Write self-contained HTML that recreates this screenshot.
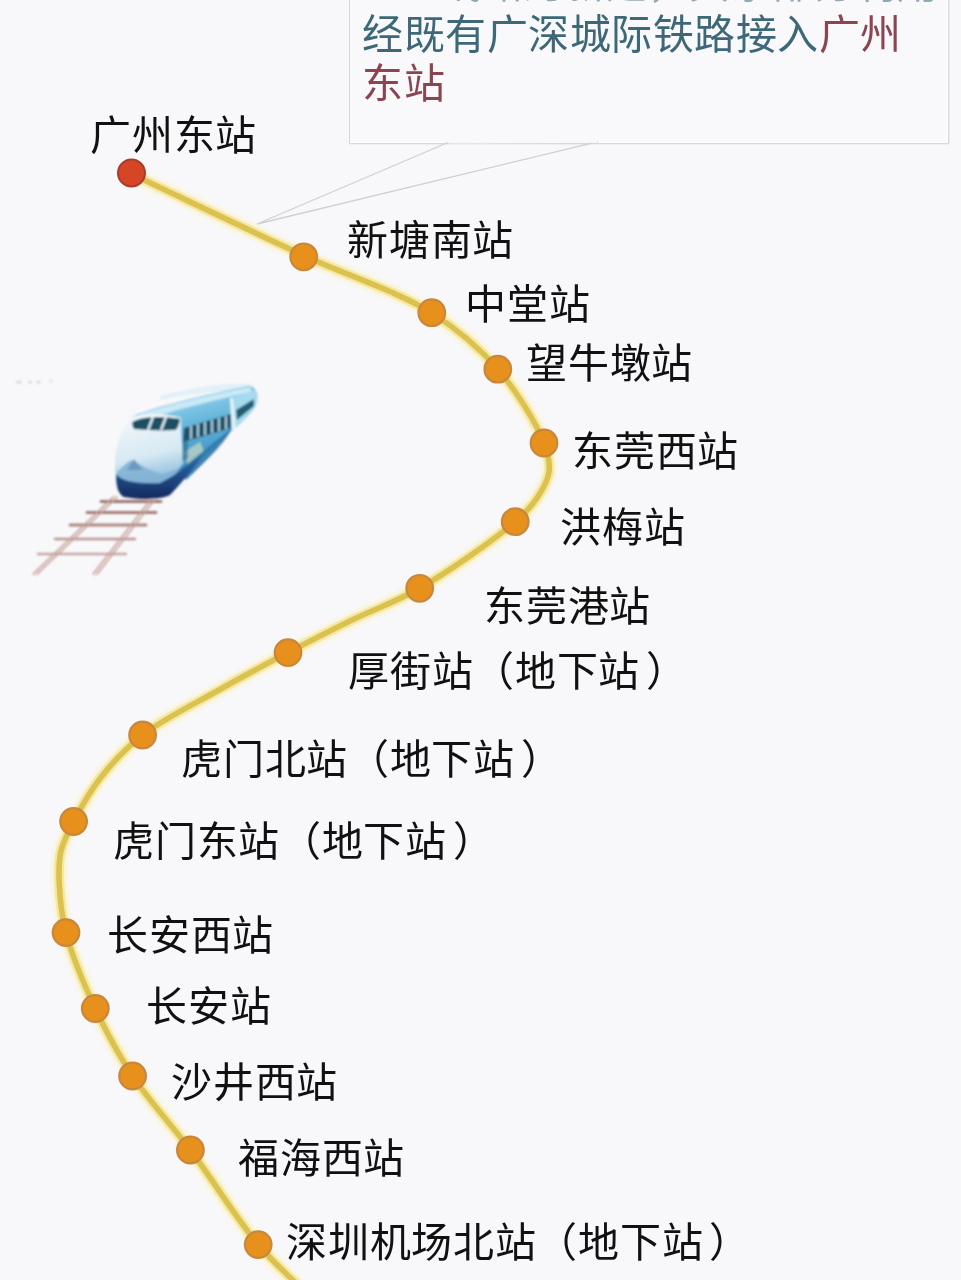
<!DOCTYPE html>
<html lang="zh-CN"><head><meta charset="utf-8">
<style>
html,body{margin:0;padding:0;}
body{width:961px;height:1280px;overflow:hidden;background:#f8f8fb;position:relative;font-family:"Liberation Sans",sans-serif;}
svg.bg{position:absolute;left:0;top:0;}
.lb{position:absolute;white-space:nowrap;font-size:41px;line-height:41px;color:#111;font-weight:300;}
.box{position:absolute;left:349px;top:-10px;width:598px;height:152px;border:1px solid #d6d6db;background:#f9f9fc;box-shadow:inset -1px -1px 0 #ffffff,1px 1px 1px rgba(0,0,0,0.04);}
.ct{position:absolute;white-space:nowrap;font-size:41px;line-height:41px;color:#3d6878;font-weight:300;}
.red{color:#8c4550;}
.ct i{width:41.5px;}
.rp{position:relative;left:6px;}
.lb,.ct{filter:blur(0.35px);}
i{font-style:normal;display:inline-block;width:41.7px;text-align:center;text-spacing-trim:space-all;}
</style></head>
<body>
<div class="box"></div>
<svg class="bg" width="961" height="1280" viewBox="0 0 961 1280">
  <defs><filter id="bl2" x="-5%" y="-5%" width="110%" height="110%"><feGaussianBlur stdDeviation="0.6"/></filter><filter id="bl3" x="-5%" y="-5%" width="110%" height="110%"><feGaussianBlur stdDeviation="2"/></filter></defs>
  <!-- callout pointer -->
  <polyline points="448,142.5 257,224 598,141.6" fill="none" stroke="#cfcfd4" stroke-width="1.3"/>
  <line x1="449" y1="142.5" x2="597" y2="142" stroke="#f8f8fb" stroke-width="2"/>
  <!-- curve -->
  <path d="M131.5,174.0 C188.9,201.2 250.4,230.9 303.7,255.5 C349.4,276.6 397.3,291.2 431.8,313.0 C458.9,330.1 479.1,347.6 497.8,369.2 C516.5,390.9 536.5,423.4 544.0,443.0 C548.3,454.4 550.2,462.8 549.0,472.0 C547.8,481.1 542.4,489.9 537.0,498.0 C531.3,506.6 525.7,512.5 515.2,521.7 C495.2,539.2 449.4,571.2 419.7,588.3 C396.1,601.9 375.1,608.8 353.1,619.5 C331.2,630.2 309.9,641.1 288.0,652.6 C265.5,664.4 243.2,676.3 219.9,689.5 C194.8,703.7 163.6,718.7 142.6,735.0 C125.6,748.3 112.7,762.3 101.0,777.2 C90.0,791.2 80.6,808.0 73.6,821.5 C68.1,832.1 63.4,840.8 61.0,851.0 C58.6,861.1 58.7,870.8 59.2,882.5 C59.8,897.3 61.3,914.5 66.0,932.6 C71.9,955.6 84.0,984.3 95.3,1008.5 C106.3,1032.1 117.8,1053.6 132.6,1076.0 C149.0,1100.8 170.6,1123.6 190.4,1150.0 C212.4,1179.4 236.7,1219.1 258.2,1244.6 C274.4,1263.9 289.4,1276.2 305.0,1292.0" fill="none" stroke="#faf3cc" stroke-width="14" stroke-linecap="round" filter="url(#bl3)"/>
  <g filter="url(#bl2)">
  <path d="M131.5,174.0 C188.9,201.2 250.4,230.9 303.7,255.5 C349.4,276.6 397.3,291.2 431.8,313.0 C458.9,330.1 479.1,347.6 497.8,369.2 C516.5,390.9 536.5,423.4 544.0,443.0 C548.3,454.4 550.2,462.8 549.0,472.0 C547.8,481.1 542.4,489.9 537.0,498.0 C531.3,506.6 525.7,512.5 515.2,521.7 C495.2,539.2 449.4,571.2 419.7,588.3 C396.1,601.9 375.1,608.8 353.1,619.5 C331.2,630.2 309.9,641.1 288.0,652.6 C265.5,664.4 243.2,676.3 219.9,689.5 C194.8,703.7 163.6,718.7 142.6,735.0 C125.6,748.3 112.7,762.3 101.0,777.2 C90.0,791.2 80.6,808.0 73.6,821.5 C68.1,832.1 63.4,840.8 61.0,851.0 C58.6,861.1 58.7,870.8 59.2,882.5 C59.8,897.3 61.3,914.5 66.0,932.6 C71.9,955.6 84.0,984.3 95.3,1008.5 C106.3,1032.1 117.8,1053.6 132.6,1076.0 C149.0,1100.8 170.6,1123.6 190.4,1150.0 C212.4,1179.4 236.7,1219.1 258.2,1244.6 C274.4,1263.9 289.4,1276.2 305.0,1292.0" fill="none" stroke="#f4e8a6" stroke-width="10" stroke-linecap="round"/>
  <path d="M131.5,174.0 C188.9,201.2 250.4,230.9 303.7,255.5 C349.4,276.6 397.3,291.2 431.8,313.0 C458.9,330.1 479.1,347.6 497.8,369.2 C516.5,390.9 536.5,423.4 544.0,443.0 C548.3,454.4 550.2,462.8 549.0,472.0 C547.8,481.1 542.4,489.9 537.0,498.0 C531.3,506.6 525.7,512.5 515.2,521.7 C495.2,539.2 449.4,571.2 419.7,588.3 C396.1,601.9 375.1,608.8 353.1,619.5 C331.2,630.2 309.9,641.1 288.0,652.6 C265.5,664.4 243.2,676.3 219.9,689.5 C194.8,703.7 163.6,718.7 142.6,735.0 C125.6,748.3 112.7,762.3 101.0,777.2 C90.0,791.2 80.6,808.0 73.6,821.5 C68.1,832.1 63.4,840.8 61.0,851.0 C58.6,861.1 58.7,870.8 59.2,882.5 C59.8,897.3 61.3,914.5 66.0,932.6 C71.9,955.6 84.0,984.3 95.3,1008.5 C106.3,1032.1 117.8,1053.6 132.6,1076.0 C149.0,1100.8 170.6,1123.6 190.4,1150.0 C212.4,1179.4 236.7,1219.1 258.2,1244.6 C274.4,1263.9 289.4,1276.2 305.0,1292.0" fill="none" stroke="#dbc250" stroke-width="5.6" stroke-linecap="round"/>
  </g>
  <!-- dots -->
  <g stroke="#c8873c" stroke-width="2.2" fill="#e8901f" filter="url(#bl2)">
    <circle cx="303.7" cy="256.8" r="13.3"/>
    <circle cx="431.8" cy="312.7" r="13.3"/>
    <circle cx="497.8" cy="369.2" r="13.3"/>
    <circle cx="544.0" cy="443.0" r="13.3"/>
    <circle cx="515.2" cy="521.7" r="13.3"/>
    <circle cx="419.7" cy="588.3" r="13.3"/>
    <circle cx="288.0" cy="652.6" r="13.3"/>
    <circle cx="142.6" cy="735.0" r="13.3"/>
    <circle cx="73.6" cy="821.5" r="13.3"/>
    <circle cx="66.0" cy="932.6" r="13.3"/>
    <circle cx="95.3" cy="1008.5" r="13.3"/>
    <circle cx="132.6" cy="1076.0" r="13.3"/>
    <circle cx="190.4" cy="1150.0" r="13.3"/>
    <circle cx="258.2" cy="1244.6" r="13.3"/>
  </g>
  <circle cx="131.5" cy="173" r="13.5" fill="#d64526" stroke="#a83c2e" stroke-width="2" filter="url(#bl2)"/>
</svg>


<svg class="bg" width="961" height="1280" viewBox="0 0 961 1280">
  <defs>
    <filter id="bl" x="-10%" y="-10%" width="120%" height="120%"><feGaussianBlur stdDeviation="0.9"/></filter>
    <linearGradient id="tb" x1="0" y1="0" x2="0.3" y2="1">
      <stop offset="0" stop-color="#b8e2f3"/>
      <stop offset="0.5" stop-color="#5fb3da"/>
      <stop offset="1" stop-color="#2d7fb3"/>
    </linearGradient>
    <linearGradient id="nose" x1="0" y1="0" x2="0.2" y2="1">
      <stop offset="0" stop-color="#f4f9fc"/>
      <stop offset="0.6" stop-color="#d7e9f3"/>
      <stop offset="1" stop-color="#7fb5d8"/>
    </linearGradient>
    <linearGradient id="bot" x1="0" y1="0" x2="0" y2="1">
      <stop offset="0" stop-color="#2f6fb0"/>
      <stop offset="1" stop-color="#13295e"/>
    </linearGradient>
  </defs>
  <g filter="url(#bl)">
    <!-- faint dots -->
    <g fill="#d8d8dd"><ellipse cx="19" cy="382" rx="3" ry="1.6"/><ellipse cx="30" cy="382" rx="2" ry="1.5"/><ellipse cx="38.5" cy="382" rx="2.5" ry="1.5"/><ellipse cx="51" cy="381" rx="2.5" ry="1.5" fill="#e4e4e8"/></g>
    <!-- rails -->
    <g fill="none" stroke-linecap="round">
      <path d="M115,497 L35,574" stroke="#eddcd8" stroke-width="4"/>
      <path d="M152,500 L95,574" stroke="#eddcd8" stroke-width="4"/>
      <g stroke="#b48e88" stroke-width="2.8">
        <line x1="101" y1="501.5" x2="161" y2="501.5" stroke="#9c766e"/>
        <line x1="87" y1="512.5" x2="156" y2="512.5" stroke="#a27c74"/>
        <line x1="70" y1="525" x2="146" y2="525" stroke="#aa867f"/>
        <line x1="55" y1="539" x2="135" y2="539" stroke="#b8958f" stroke-width="2.5"/>
        <line x1="38" y1="554" x2="126" y2="554" stroke="#c4a5a0" stroke-width="2.3"/>
      </g>
      <g stroke="#c2a09b" stroke-width="1.3">
        <line x1="113" y1="497" x2="33" y2="574"/>
        <line x1="117.5" y1="497" x2="37.5" y2="574"/>
        <line x1="150" y1="500" x2="93" y2="574"/>
        <line x1="154.5" y1="500" x2="97.5" y2="574"/>
      </g>
    </g>
    <!-- motion trail -->
    <path d="M160,396 C190,388 225,382 252,384 L250,390 C222,390 190,394 160,400 Z" fill="#e2f0f7"/>
    <!-- body side -->
    <path d="M131,417 C150,408 200,396 248,386 C255,386 259,392 257,402 C254,412 240,424 228,434 L188,468 L167,490 L150,470 Z" fill="url(#tb)"/>
    <path d="M140,414 C170,404 210,395 250,387 L252,392 C215,400 175,410 145,420 Z" fill="#c9e9f6"/>
    <!-- rear car -->
    <path d="M231,398 L255,390 C258,394 258,402 255,408 L236,428 Z" fill="#a6daee"/>
    <path d="M236,410 L254,399 L254,406 L237,420 Z" fill="#245f74"/>
    <path d="M230,398 L233,398 L236,430 L232,432 Z" fill="#e4f3fa"/>
    <!-- nose -->
    <path d="M131,417 C122,428 115,445 115,465 C115,478 117,486 120,490 L160,492 C170,480 178,470 184,462 C182,448 181,435 181,418 C165,413 145,413 131,417 Z" fill="url(#nose)"/>
    <path d="M117,472 C124,466 130,458 135,461 C141,466 150,470 162,474 L180,468 L166,488 L120,488 Z" fill="#7fb0d4" opacity="0.85"/>
    <path d="M127,470 L134,459 L142,470 Z" fill="#5d8db8" opacity="0.7"/>
    <!-- side lower highlight -->
    <path d="M184,452 L200,442 L204,452 L188,466 Z" fill="#f1ecc4" opacity="0.55"/>
    <!-- lower side teal -->
    <path d="M180,470 L232,428 C226,442 205,462 186,480 Z" fill="#2a75a8" opacity="0.9"/>
    <!-- bottom skirt -->
    <path d="M116,474 C122,482 140,484 160,483 C168,479 176,474 184,468 L205,452 C196,466 184,480 170,495 C160,500 140,500 124,497 C118,494 116,486 116,474 Z" fill="url(#bot)"/>
    <!-- windshield -->
    <path d="M133,421 C140,416 160,415 180,418 C180,423 178,427 176,430 C160,431 146,430 134,429 C132,426 132,423 133,421 Z" fill="#1d4f66"/>
    <g stroke="#e6f4fa" stroke-width="2.2"><line x1="148" y1="430" x2="153" y2="417"/><line x1="161" y1="430" x2="166" y2="417"/></g>
    <path d="M133,421 C140,416 160,415 180,418" fill="none" stroke="#f4fafd" stroke-width="1.5"/>
    <!-- side windows -->
    <path d="M184,428 L231,414 L231,428 L183,442 Z" fill="#1a4f68"/>
    <g stroke="#c4e6f3" stroke-width="1.7"><line x1="191" y1="439" x2="191" y2="426"/><line x1="198" y1="437" x2="198" y2="424"/><line x1="205" y1="435" x2="205" y2="422"/><line x1="212" y1="433" x2="212" y2="420"/><line x1="219" y1="431" x2="219" y2="418"/><line x1="226" y1="429" x2="226" y2="416"/></g>
    <path d="M183,440 L182,462 L188,458 L188,438 Z" fill="#2a6b8c" opacity="0.6"/>
  </g>
</svg>

<div class="ct" style="left:440px;top:-36px;opacity:0.55;"><i>线</i><i>路</i><i>为</i><i>新</i><i>建</i><i>，</i><i>其</i><i>余</i><i>部</i><i>分</i><i>利</i><i>用</i></div>
<div class="ct" style="left:362px;top:15px;"><i>经</i><i>既</i><i>有</i><i>广</i><i>深</i><i>城</i><i>际</i><i>铁</i><i>路</i><i>接</i><i>入</i><span class="red"><i>广</i><i>州</i></span></div>
<div class="ct red" style="left:362px;top:64px;"><i>东</i><i>站</i></div>

<div class="lb" style="left:90px;top:116px;"><i>广</i><i>州</i><i>东</i><i>站</i></div>
<div class="lb" style="left:347px;top:221px;"><i>新</i><i>塘</i><i>南</i><i>站</i></div>
<div class="lb" style="left:465px;top:285px;"><i>中</i><i>堂</i><i>站</i></div>
<div class="lb" style="left:526px;top:344px;"><i>望</i><i>牛</i><i>墩</i><i>站</i></div>
<div class="lb" style="left:572px;top:432px;"><i>东</i><i>莞</i><i>西</i><i>站</i></div>
<div class="lb" style="left:560px;top:508px;"><i>洪</i><i>梅</i><i>站</i></div>
<div class="lb" style="left:484px;top:587px;"><i>东</i><i>莞</i><i>港</i><i>站</i></div>
<div class="lb" style="left:348px;top:652px;"><i>厚</i><i>街</i><i>站</i><i>（</i><i>地</i><i>下</i><i>站</i><i class="rp">）</i></div>
<div class="lb" style="left:181px;top:740px;"><i>虎</i><i>门</i><i>北</i><i>站</i><i>（</i><i>地</i><i>下</i><i>站</i><i class="rp">）</i></div>
<div class="lb" style="left:113px;top:822px;"><i>虎</i><i>门</i><i>东</i><i>站</i><i>（</i><i>地</i><i>下</i><i>站</i><i class="rp">）</i></div>
<div class="lb" style="left:107px;top:916px;"><i>长</i><i>安</i><i>西</i><i>站</i></div>
<div class="lb" style="left:146px;top:987px;"><i>长</i><i>安</i><i>站</i></div>
<div class="lb" style="left:171px;top:1063px;"><i>沙</i><i>井</i><i>西</i><i>站</i></div>
<div class="lb" style="left:238px;top:1139px;"><i>福</i><i>海</i><i>西</i><i>站</i></div>
<div class="lb" style="left:286px;top:1223px;"><i>深</i><i>圳</i><i>机</i><i>场</i><i>北</i><i>站</i><i>（</i><i>地</i><i>下</i><i>站</i><i class="rp">）</i></div>
</body></html>
